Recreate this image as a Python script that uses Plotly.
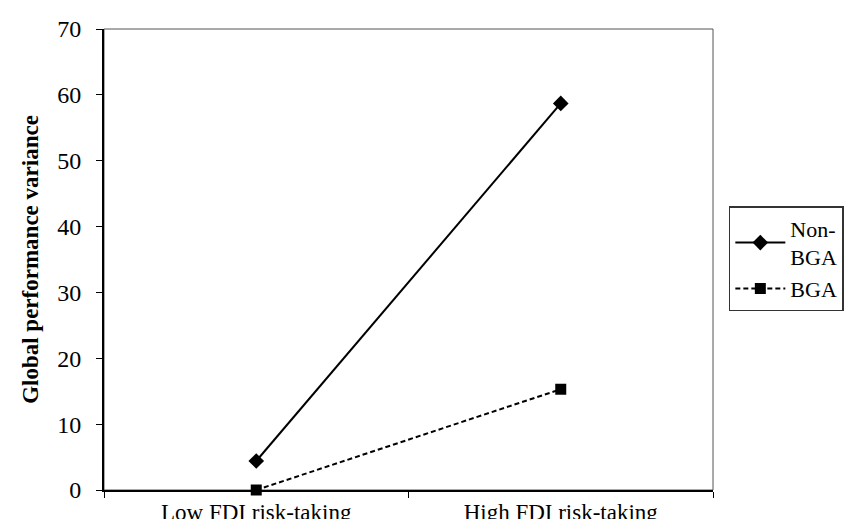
import plotly.graph_objects as go

categories = ["Low FDI risk-taking", "High FDI risk-taking"]
non_bga = [4.4, 58.7]
bga = [0.0, 15.3]
y_ticks = [0, 10, 20, 30, 40, 50, 60, 70]

FONT = "Liberation Serif"

fig = go.Figure()
fig.add_trace(go.Scatter(
    x=categories, y=non_bga, name="Non-<br>BGA", mode="lines+markers",
    line=dict(color="black", width=2, dash="solid"),
    marker=dict(symbol="diamond", size=12, color="black"),
    cliponaxis=False,
))
fig.add_trace(go.Scatter(
    x=categories, y=bga, name="BGA", mode="lines+markers",
    line=dict(color="black", width=2, dash="5px,3px"),
    marker=dict(symbol="square", size=11, color="black"),
    cliponaxis=False,
))

fig.update_layout(
    width=860, height=519,
    margin=dict(l=96, r=155, t=21, b=37, pad=0, autoexpand=False),
    paper_bgcolor="white", plot_bgcolor="white",
    font=dict(family=FONT, size=20, color="black"),
    showlegend=True,
    legend=dict(
        x=1.026, y=0.616, xanchor="left", yanchor="top",
        bordercolor="#333333", borderwidth=1.5,
        font=dict(family=FONT, size=22, color="black"),
        tracegroupgap=0, itemwidth=50,
    ),
    shapes=[dict(type="rect", xref="paper", yref="paper", x0=0, x1=1, y0=0, y1=1,
                 line=dict(color="#555555", width=1), layer="below")],
)
fig.update_xaxes(
    type="category", tickson="boundaries", ticks="outside", ticklen=6,
    tickwidth=1, tickcolor="black",
    showline=True, linecolor="black", linewidth=2, showgrid=False,
    tickfont=dict(family=FONT, size=23, color="black"),
    range=[-0.5, 1.5], zeroline=False, automargin=False,
)
fig.update_yaxes(
    range=[0, 70], tickvals=y_ticks, ticks="outside", ticklen=6,
    tickwidth=1, tickcolor="black", ticklabelstandoff=10,
    showline=True, linecolor="black", linewidth=2, showgrid=False, zeroline=False,
    tickfont=dict(family=FONT, size=24, color="black"), automargin=False,
    title=dict(text="<b>Global performance variance</b>", standoff=12,
               font=dict(family=FONT, size=23, color="black")),
)

fig.write_html("out.html")
